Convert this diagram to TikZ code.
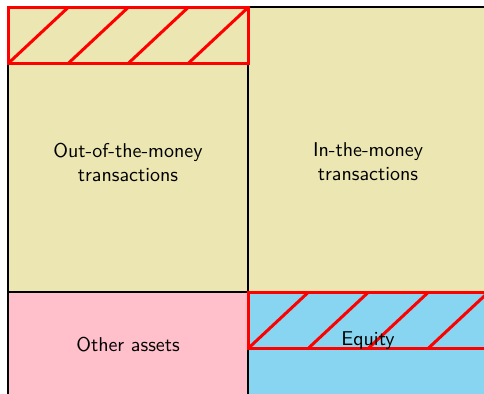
\documentclass[tikz,border=0pt]{standalone}
\usepackage{tikz}
\usepackage{xcolor}
\usetikzlibrary{positioning, calc}
\definecolor{palekhaki}{HTML}{EBE6B2}
\definecolor{softpink}{HTML}{FFC0CB}
\definecolor{skyblue}{HTML}{87D5F0}

\begin{document}
\begin{tikzpicture}[
  x=0.5pt, y=-0.5pt,
  every node/.style={font=\sffamily},
  block/.style={
    rectangle, draw=black, line width=1.2pt,
    minimum width=120pt, inner sep=0pt
  },
  txt/.style={align=center, inner sep=0pt},
  hatch/.style={
    rectangle, draw=red, line width=1.5pt,
    minimum width=120pt, minimum height=28pt, inner sep=0pt,
    path picture={
      \foreach \k in {0,...,3}
        \draw[red, line width=1.5pt]
          ($(path picture bounding box.south west)+(\k*30pt,0pt)$) -- ++(30pt,28pt);
    }
  }
]

%% frame: 484 x 393 in pixel units, everything outside is cut off
\clip (0,0) rectangle (484,393);
\useasboundingbox (0,0) rectangle (484,393);

%% ─── ASSETS SIDE (left column, x = 8 .. 248) ────────────────────────────────
\node[block, fill=palekhaki, minimum height=142.5pt] (otm) at (128,149.5) {};
\node[block, fill=softpink, minimum height=52pt] (other) at (128,344) {};

%% ─── LIABILITIES SIDE (right column, x = 248 .. 488) ────────────────────────
\node[block, fill=palekhaki, minimum height=142.5pt] (itm) at (368,149.5) {};
\node[block, fill=skyblue, minimum height=52pt] (eqbox) at (368,344) {};

%% hatched strips on top of the boxes
\node[hatch, anchor=north west] (otm_hatch) at (otm.north west) {};
\node[hatch, anchor=north west] (eq_hatch) at (eqbox.north west) {};

%% labels
\node[txt] (otm_txt) at (128,162) {Out-of-the-money\\transactions};
\node[txt] (itm_txt) at (368,162) {In-the-money\\transactions};
\node[txt] (other_txt) at (128,345) {Other assets};
\node[txt] (equity) at (368,341) {Equity};

\end{tikzpicture}
\end{document}
